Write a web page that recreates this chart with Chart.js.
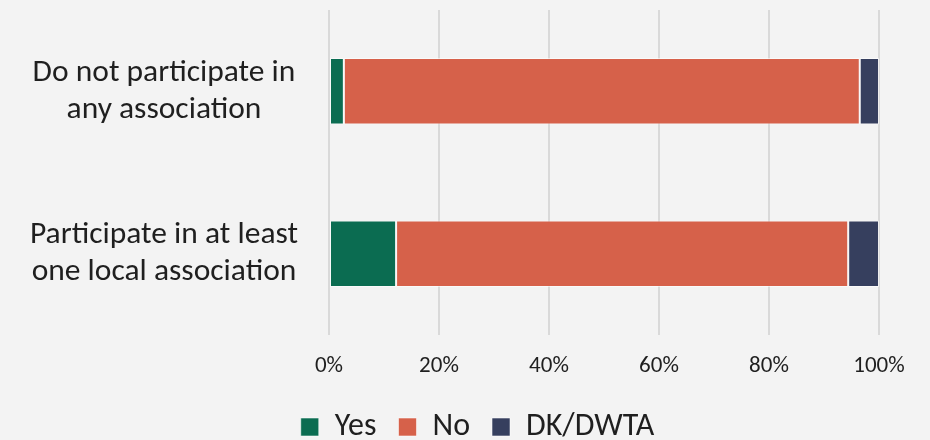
<!DOCTYPE html>
<html>
<head>
<meta charset="utf-8">
<script src="https://cdn.jsdelivr.net/npm/chart.js@4/dist/chart.umd.min.js"></script>
<style>
    html, body { margin: 0; padding: 0; background: #f3f3f3; }
    #wrap { width: 930px; height: 440px; }
</style>
</head>
<body>
<div id="wrap"><canvas id="participationChart"></canvas></div>
<script>
    // Categories (multi-line labels) and shares per answer, in percent
    const categories = [
        ['Do not participate in', 'any association'],
        ['Participate in at least', 'one local association']
    ];
    const yesValues = [2.7, 12.2];
    const noValues = [93.8, 82.2];
    const dkValues = [3.5, 5.6];
    const tickValues = [0, 20, 40, 60, 80, 100];

    const textColor = '#1f1f1f';
    const fontFamily = "Carlito, 'Open Sans', sans-serif";

    function makeDataset(label, values, color) {
        return {
            label: label,
            data: values,
            backgroundColor: color,
            borderColor: 'rgba(255, 255, 255, 0.55)',
            borderWidth: 1,
            borderSkipped: false,
            categoryPercentage: 1,
            barPercentage: 0.41
        };
    }

    // Legend sits under the whole canvas in the original, not under the plot area
    const legendShift = {
        id: 'legendShift',
        afterLayout(chart) {
            chart.legend.left += 38;
            chart.legend.right += 38;
        }
    };

    const ctx = document.getElementById('participationChart').getContext('2d');
    const participationChart = new Chart(ctx, {
        type: 'bar',
        data: {
            labels: categories,
            datasets: [
                makeDataset('Yes', yesValues, '#0b6c51'),
                makeDataset('No', noValues, '#d6614a'),
                makeDataset('DK/DWTA', dkValues, '#363f5e')
            ]
        },
        options: {
            indexAxis: 'y',
            responsive: true,
            maintainAspectRatio: false,
            animation: false,
            layout: {
                padding: { top: 10, right: 51, bottom: -13, left: 0 }
            },
            scales: {
                x: {
                    stacked: true,
                    min: 0,
                    max: 100,
                    afterBuildTicks: (scale) => {
                        scale.ticks = tickValues.map(v => ({ value: v }));
                    },
                    afterFit: (scale) => { scale.height = 54; },
                    grid: { color: '#d9d9d9', lineWidth: 2, drawTicks: false },
                    border: { display: false },
                    ticks: {
                        padding: 17,
                        color: textColor,
                        font: { family: fontFamily, size: 23 },
                        callback: (value) => value + '%'
                    }
                },
                y: {
                    stacked: true,
                    afterFit: (scale) => {
                        // keep the axis box fixed and stop the two-line labels padding the chart area
                        scale.width = 329;
                        scale.paddingTop = 0;
                        scale.paddingBottom = 0;
                    },
                    grid: { display: false, drawTicks: false },
                    border: { display: false },
                    ticks: {
                        crossAlign: 'center',
                        padding: 31,
                        color: textColor,
                        font: { family: fontFamily, size: 31.5, lineHeight: 1.17 }
                    }
                }
            },
            plugins: {
                legend: {
                    position: 'bottom',
                    labels: {
                        boxWidth: 18,
                        boxHeight: 18,
                        padding: 22,
                        color: textColor,
                        font: { family: fontFamily, size: 32 }
                    }
                },
                tooltip: { enabled: false }
            }
        },
        plugins: [legendShift]
    });
</script>
</body>
</html>
